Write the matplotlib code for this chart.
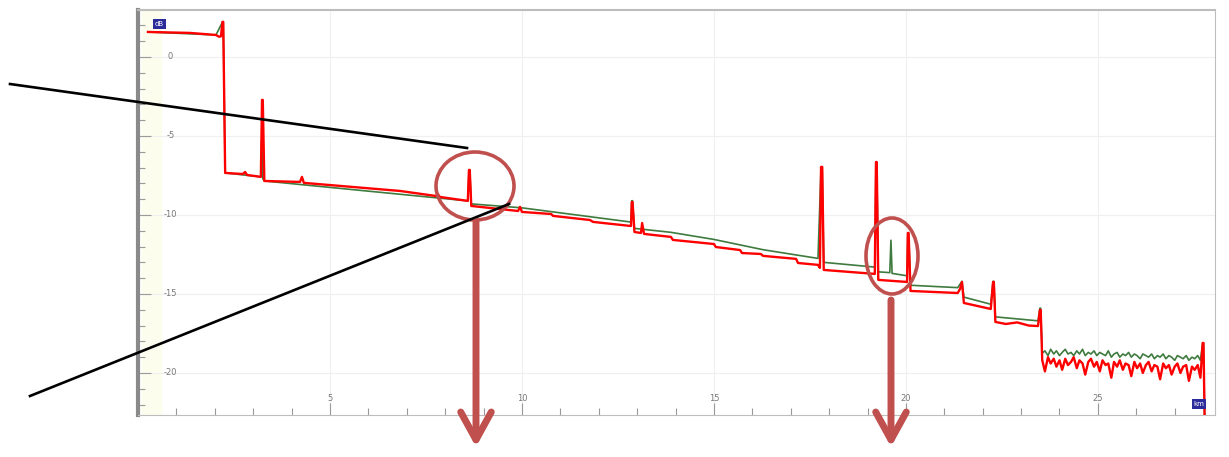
import matplotlib
matplotlib.use('Agg')
import matplotlib.pyplot as plt
from matplotlib.patches import Ellipse
from matplotlib.transforms import blended_transform_factory

# OTDR trace, red (current) and green (reference), distance in km, level in dB
red_km = [0.26, 1.35, 2.03, 2.11, 2.16, 2.20, 2.22, 2.27, 2.73, 2.79, 2.84, 3.20, 3.23, 3.25, 3.29,
          4.22, 4.27, 4.32, 6.82, 7.76, 7.81, 7.86, 8.59, 8.62, 8.64, 8.68, 9.90, 9.95, 10.00,
          10.76, 10.81, 11.77, 11.85, 12.84, 12.86, 12.88, 12.93, 13.10, 13.13, 13.18, 13.88, 13.93,
          15.00, 15.05, 15.68, 15.73, 16.22, 16.28, 17.14, 17.19, 17.71, 17.76, 17.79, 17.82, 17.86,
          19.19, 19.22, 19.24, 19.28, 20.03, 20.05, 20.07, 20.12, 21.35, 21.41, 21.46, 21.51,
          22.21, 22.27, 22.29, 22.33, 22.6, 22.9, 23.2, 23.44, 23.49, 23.51, 23.55]
red_db = [1.58, 1.52, 1.39, 1.28, 1.30, 2.22, 2.22, -7.34, -7.41, -7.28, -7.47, -7.59, -2.72, -2.72, -7.85,
          -7.91, -7.59, -7.97, -8.48, -8.80, -8.67, -8.86, -9.11, -7.15, -7.15, -9.43, -9.75, -9.49, -9.81,
          -9.94, -10.06, -10.32, -10.44, -10.70, -9.18, -9.18, -11.08, -11.14, -10.51, -11.20, -11.39, -11.58,
          -11.84, -12.03, -12.22, -12.41, -12.47, -12.59, -12.78, -13.04, -13.16, -13.35, -6.96, -6.96, -13.48,
          -13.73, -6.65, -6.65, -14.11, -14.24, -11.14, -11.14, -14.81, -14.94, -14.68, -14.24, -15.57,
          -15.95, -14.24, -14.24, -16.77, -16.9, -16.8, -17.0, -17.03, -16.01, -16.01, -19.18]

green_km = [0.26, 2.03, 2.20, 2.22, 2.27, 3.20, 3.22, 3.25, 3.29, 8.59, 8.62, 8.64, 8.68, 10.00,
            12.84, 12.86, 12.88, 12.93, 13.88, 15.00, 16.28, 17.71, 17.79, 17.82, 17.86, 19.19, 19.22,
            19.24, 19.28, 19.58, 19.61, 19.64, 20.03, 20.05, 20.07, 20.12, 21.35, 21.46, 21.51, 22.21,
            22.27, 22.29, 22.33, 23.44, 23.49, 23.51, 23.55]
green_db = [1.58, 1.39, 2.2, 2.2, -7.34, -7.59, -5.25, -7.7, -7.85, -9.11, -7.15, -7.15, -9.3, -9.55,
            -10.45, -9.1, -9.1, -10.85, -11.1, -11.55, -12.2, -12.75, -7.0, -7.0, -13.0, -13.3, -6.7,
            -6.7, -13.6, -13.65, -11.6, -13.7, -13.85, -11.2, -11.2, -14.45, -14.6, -14.2, -15.2, -15.65,
            -14.2, -14.2, -16.45, -16.7, -15.9, -15.9, -18.75]

# noisy tail after the last splice
noise_km = [23.62, 23.70, 23.77, 23.85, 23.92, 24.00, 24.07, 24.15, 24.22, 24.30, 24.37, 24.45, 24.52,
            24.60, 24.67, 24.75, 24.82, 24.90, 24.97, 25.05, 25.12, 25.20, 25.27, 25.35, 25.42, 25.50,
            25.57, 25.65, 25.72, 25.80, 25.87, 25.95, 26.02, 26.10, 26.17, 26.25, 26.32, 26.40, 26.47,
            26.55, 26.62, 26.70, 26.77, 26.85, 26.92, 27.00, 27.07, 27.15, 27.22, 27.30, 27.37, 27.45,
            27.52, 27.60, 27.67]
red_noise_db = [-19.9, -19.0, -19.4, -19.1, -19.6, -19.2, -19.8, -19.1, -19.5, -19.3, -19.0, -19.7, -19.2,
                -19.4, -20.1, -19.3, -19.1, -19.6, -19.3, -19.9, -19.2, -19.5, -19.4, -20.3, -19.3, -19.6,
                -19.2, -19.8, -19.4, -19.5, -20.2, -19.3, -19.7, -19.4, -20.0, -19.5, -19.3, -19.9, -19.5,
                -19.6, -20.4, -19.4, -19.7, -19.5, -20.1, -19.6, -19.4, -20.0, -19.6, -19.5, -20.5, -19.6,
                -19.8, -19.5, -20.3]
green_noise_db = [-18.6, -18.9, -18.5, -18.8, -18.6, -18.9, -18.7, -18.5, -18.8, -18.7, -18.9, -18.6, -18.8,
                  -18.5, -18.9, -18.7, -18.8, -18.6, -18.9, -18.7, -18.8, -18.9, -18.6, -19.0, -18.8, -18.7,
                  -19.0, -18.8, -18.9, -18.7, -19.0, -18.8, -18.9, -19.1, -18.8, -18.9, -19.0, -18.8, -19.1,
                  -18.9, -19.0, -18.8, -19.1, -18.9, -19.0, -19.2, -18.9, -19.0, -19.1, -18.9, -19.2, -19.0,
                  -19.1, -18.9, -19.2]

end_km = [27.73, 27.75, 27.78]
end_db = [-18.1, -18.1, -22.9]

x_ticks = [5, 10, 15, 20, 25]
y_ticks = [0, -5, -10, -15, -20]

W, H = 1229, 457
fig = plt.figure(figsize=(W / 100, H / 100), dpi=100)
ax = fig.add_axes([138 / W, (H - 415) / H, (1215 - 138) / W, (415 - 10) / H])

ax.axvspan(0.1, 0.6, color='#fdfdee', zorder=0)
for xv in x_ticks:
    ax.axvline(xv, color='#f0f0f0', lw=0.9, zorder=0)
for yv in y_ticks:
    ax.axhline(yv, color='#f0f0f0', lw=0.9, zorder=0)

ax.plot(green_km + noise_km + end_km, green_db + green_noise_db + end_db,
        color='#3f7a3f', lw=1.2, zorder=2)
ax.plot(red_km + noise_km + end_km, red_db + red_noise_db + end_db,
        color='#ff0000', lw=1.7, zorder=3)

ax.set_xlim(0, 28.05)
ax.set_ylim(-22.66, 2.97)

ax.set_xticks(range(1, 28), minor=True)
ax.set_xticks(x_ticks)
ax.set_yticks(range(-22, 3), minor=True)
ax.set_yticks(y_ticks)
ax.tick_params(which='both', direction='in', colors='#9a9a9a', labelbottom=False, labelleft=False)
ax.tick_params(which='major', length=9, width=0.8)
ax.tick_params(which='minor', length=5, width=0.8)

for side in ['top', 'right', 'bottom']:
    ax.spines[side].set_color('#bdbdbd')
ax.spines['top'].set_linewidth(1.5)
ax.spines['left'].set_color('#8a8a8a')
ax.spines['left'].set_linewidth(3)

# tick labels sit inside the trace window
tx = blended_transform_factory(ax.transData, ax.transAxes)
for xv in x_ticks:
    ax.text(xv, 0.04, str(xv), transform=tx, ha='center', va='center', fontsize=6, color='#777777')
ty = blended_transform_factory(ax.transAxes, ax.transData)
for yv in y_ticks:
    ax.text(0.03, yv, str(yv), transform=ty, ha='center', va='center', fontsize=6, color='#777777')

ax.text(0.02, 0.965, 'dB', transform=ax.transAxes, ha='center', va='center', fontsize=5,
        color='white', bbox=dict(boxstyle='square,pad=0.25', fc='#2b2b9a', ec='none'))
ax.text(0.985, 0.027, 'km', transform=ax.transAxes, ha='center', va='center', fontsize=5,
        color='white', bbox=dict(boxstyle='square,pad=0.25', fc='#2b2b9a', ec='none'))

# callout layer in pixel coordinates
ov = fig.add_axes([0, 0, 1, 1], facecolor='none')
ov.set_xlim(0, W)
ov.set_ylim(H, 0)
ov.axis('off')

ov.plot([10, 467], [84, 148], color='black', lw=1.9)
ov.plot([30, 509], [396, 204], color='black', lw=1.9)

mark = '#c0504d'
ov.add_patch(Ellipse((475, 186), 78, 68, fill=False, ec=mark, lw=2.6))
ov.add_patch(Ellipse((892, 256), 52, 76, fill=False, ec=mark, lw=2.6))

for x0, y0 in [(476, 222), (891, 300)]:
    ov.annotate('', xy=(x0, 447), xytext=(x0, y0),
                arrowprops=dict(arrowstyle='->,head_length=2.0,head_width=1.1', lw=5,
                                color=mark, shrinkA=0, shrinkB=0))

fig.savefig('out.png', dpi=100)
